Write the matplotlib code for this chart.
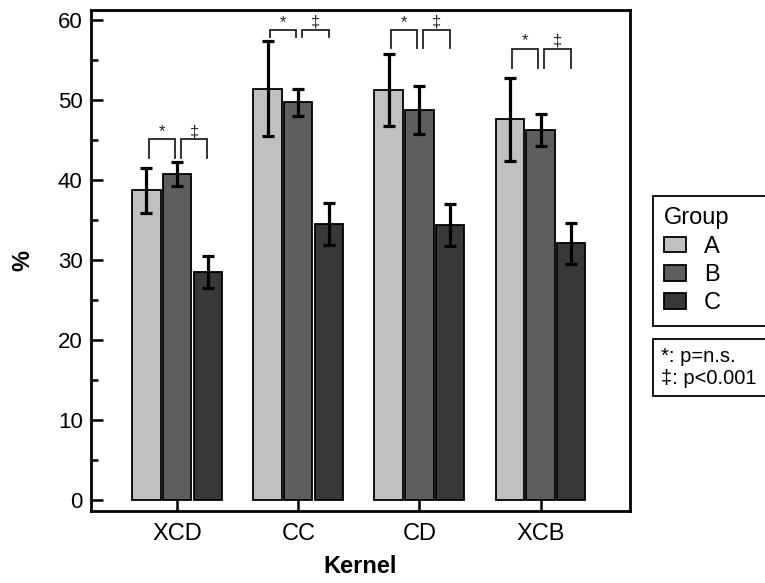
import numpy as np
import matplotlib
matplotlib.use("Agg")
import matplotlib.pyplot as plt
from matplotlib.patches import Patch
from matplotlib.lines import Line2D
from matplotlib.ticker import MultipleLocator

plt.rcParams["font.family"] = ["Liberation Sans", "DejaVu Sans"]

# Data
kernels = ["XCD", "CC", "CD", "XCB"]
groups = ["A", "B", "C"]
colors = ["#c0c0c0", "#5e5e5e", "#383838"]

mean_a = [38.7, 51.4, 51.2, 47.6]
mean_b = [40.75, 49.7, 48.7, 46.25]
mean_c = [28.5, 34.5, 34.4, 32.1]
err_a = [2.85, 5.95, 4.5, 5.2]
err_b = [1.5, 1.65, 3.0, 2.05]
err_c = [2.05, 2.6, 2.6, 2.55]

# significance brackets (top of bracket, bottom of legs)
bracket_top = [45.1, 58.75, 58.75, 56.4]
bracket_leg = [42.7, 57.9, 56.5, 54.0]
bracket_marks = ["*", "\u2021"]
note_lines = ["*: p=n.s.", "\u2021: p<0.001"]

means = [mean_a, mean_b, mean_c]
errs = [err_a, err_b, err_c]

fig = plt.figure(figsize=(7.65, 5.83), dpi=100)
ax = fig.add_axes([91 / 765, 72 / 583, 539 / 765, 501 / 583])

x = np.arange(len(kernels))
width = 0.234
offsets = [-0.254, 0.0, 0.254]

for i in range(3):
    ax.bar(x + offsets[i], means[i], width, color=colors[i], edgecolor="black",
           linewidth=1.3, zorder=2)
    ax.errorbar(x + offsets[i], means[i], yerr=errs[i], fmt="none", ecolor="black",
                elinewidth=2.3, capsize=4.6, capthick=2.3, zorder=3)

# brackets: A-B and B-C
spans = [(-0.235, -0.02), (0.03, 0.25)]
for k in range(len(kernels)):
    for j, (s0, s1) in enumerate(spans):
        x0 = x[k] + s0
        x1 = x[k] + s1
        ax.plot([x0, x0, x1, x1], [bracket_leg[k], bracket_top[k], bracket_top[k], bracket_leg[k]],
                color="#222222", linewidth=1.3, solid_joinstyle="miter", zorder=3)
        ax.text((x0 + x1) / 2, bracket_top[k] + 0.4, bracket_marks[j], ha="center",
                va="baseline", fontsize=12, color="#222222")

ax.set_xlim(-0.712, 3.739)
ax.set_ylim(-1.375, 61.25)
ax.set_xticks(x)
ax.set_xticklabels(kernels)
ax.yaxis.set_major_locator(MultipleLocator(10))
ax.yaxis.set_minor_locator(MultipleLocator(5))

ax.tick_params(axis="both", which="major", direction="in", length=8.5, width=1.8)
ax.tick_params(axis="y", which="minor", direction="in", length=5, width=1.8)
ax.tick_params(axis="y", labelsize=16, pad=6)
ax.tick_params(axis="x", labelsize=17, pad=9)
ax.tick_params(top=False, right=False, which="both")
for sp in ax.spines.values():
    sp.set_linewidth(2.0)

ax.set_xlabel("Kernel", fontsize=17, fontweight="bold", labelpad=7)
ax.set_ylabel("%", fontsize=17, fontweight="bold")
ax.yaxis.set_label_coords(-0.105, 0.5)

# legend for groups
handles = [Patch(facecolor=c, edgecolor="black", linewidth=1.3) for c in colors]
leg = ax.legend(handles, groups, title="Group", loc="upper left", mode="expand",
                bbox_to_anchor=(652.7 / 765, 0, 130 / 765, (583 - 196) / 583),
                bbox_transform=fig.transFigure, borderaxespad=0, fontsize=17,
                title_fontsize=17, alignment="left", fancybox=False, framealpha=1,
                edgecolor="black", handlelength=0.93, handleheight=0.64,
                handletextpad=0.76, labelspacing=0.27, borderpad=0.48)
leg.get_frame().set_linewidth(1.3)
ax.add_artist(leg)

# note box for significance symbols
blank = [Line2D([], [], linestyle="none") for _ in note_lines]
note = ax.legend(blank, note_lines, loc="upper left", mode="expand",
                 bbox_to_anchor=(652.7 / 765, 0, 130 / 765, (583 - 339) / 583),
                 bbox_transform=fig.transFigure, borderaxespad=0, fontsize=14.5,
                 fancybox=False, framealpha=1, edgecolor="black", handlelength=0,
                 handletextpad=0, labelspacing=0.12, borderpad=0.42)
note.get_frame().set_linewidth(1.3)

plt.savefig("out.png", dpi=100)
